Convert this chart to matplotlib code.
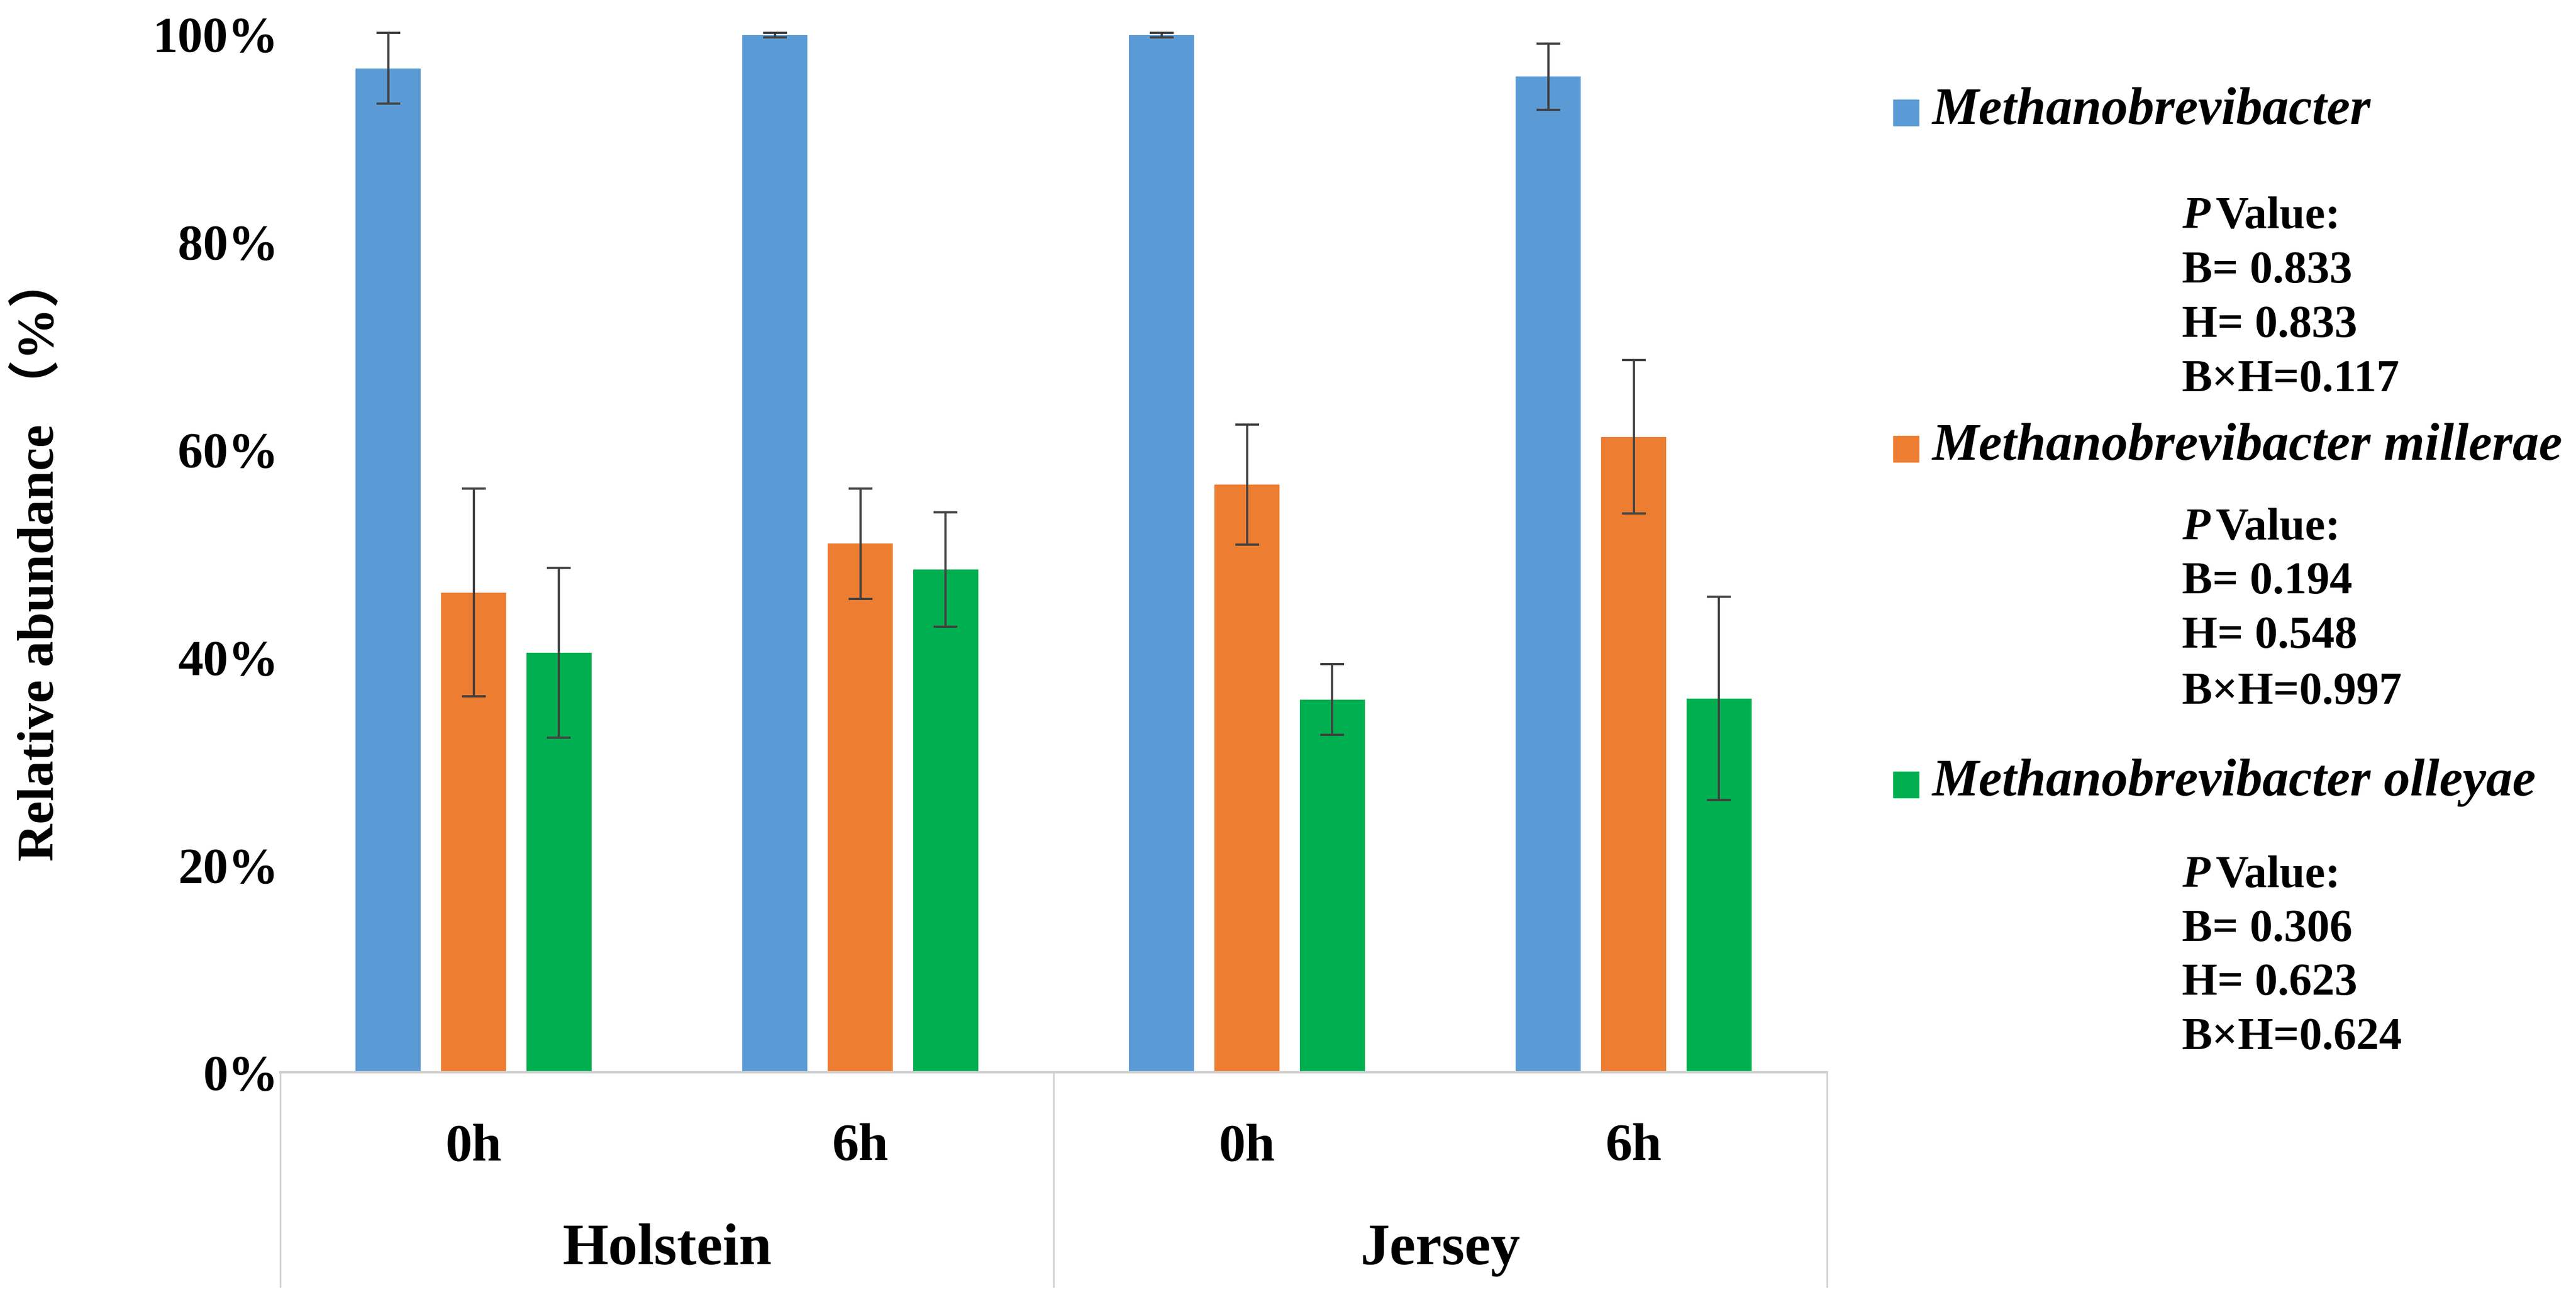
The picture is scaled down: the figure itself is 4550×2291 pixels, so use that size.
import numpy as np
import matplotlib
matplotlib.use("Agg")
import matplotlib.pyplot as plt
from matplotlib.patches import Rectangle

plt.rcParams['font.family'] = ['Liberation Serif', 'Noto Sans CJK SC']

# data (relative abundance, %)
times = ["0h", "6h", "0h", "6h"]
breeds = ["Holstein", "Jersey"]
species = ["Methanobrevibacter", "Methanobrevibacter millerae", "Methanobrevibacter olleyae"]
mbb = [96.7, 99.9, 99.9, 95.9]
mbb_err = [3.4, 0.2, 0.2, 3.2]
millerae = [46.2, 50.9, 56.6, 61.2]
millerae_err = [10.0, 5.3, 5.8, 7.4]
olleyae = [40.4, 48.4, 35.9, 36.0]
olleyae_err = [8.2, 5.5, 3.4, 9.8]
pvals = [["0.833", "0.833", "0.117"],
         ["0.194", "0.548", "0.997"],
         ["0.306", "0.623", "0.624"]]
colors = ["#5B9BD5", "#ED7D31", "#00B050"]

W, H = 4550, 2291
def fx(x): return x / W
def fy(y): return 1 - y / H

fig = plt.figure(figsize=(45.5, 22.91), dpi=100)
ax = fig.add_axes([fx(495), fy(1894), (3227 - 495) / W, (1894 - 60) / H])

x = np.arange(len(times))
offs = [-0.221, 0, 0.221]
vals = [mbb, millerae, olleyae]
errs = [mbb_err, millerae_err, olleyae_err]
for i in range(3):
    ax.bar(x + offs[i], vals[i], width=0.168, color=colors[i], zorder=2)
    ax.errorbar(x + offs[i], vals[i], yerr=errs[i], fmt="none", ecolor="#404040",
                elinewidth=2.8, capsize=15, capthick=2.8, zorder=3, clip_on=False)

ax.set_xlim(-0.5, 3.5)
ax.set_ylim(0, 100)
ax.set_yticks([0, 20, 40, 60, 80, 100])
ax.set_yticklabels(["0%", "20%", "40%", "60%", "80%", "100%"], fontsize=64, fontweight="bold")
ax.set_xticks([])
ax.tick_params(axis="y", length=0, pad=2)
for s in ["top", "right", "left"]:
    ax.spines[s].set_visible(False)
ax.spines["bottom"].set_color("#d0d0d0")
ax.spines["bottom"].set_linewidth(3)

# multi-level category axis
tr = ax.get_xaxis_transform()
low = -(2273 - 1894) / 1834
for xv in [-0.5, 1.5, 3.5]:
    ax.plot([xv, xv], [0, low], transform=tr, color="#d0d0d0", lw=2, clip_on=False)
for i, t in enumerate(times):
    ax.text(i, -(2027 - 1894) / 1834, t, transform=tr, ha="center", va="center",
            fontsize=68, fontweight="bold")
for j, b in enumerate(breeds):
    ax.text(2 * j + 0.5, -(2208 - 1894) / 1834, b, transform=tr, ha="center", va="center",
            fontsize=75, fontweight="bold")

fig.text(fx(70), fy(986), "Relative abundance （%）", rotation=90, ha="center", va="center",
         fontsize=66, fontweight="bold")

# legend with p values
sq_y = [199, 793, 1386]
name_base = [219, 812, 1405]
p_base = [[403, 499, 595, 691], [953, 1048, 1144, 1243], [1567, 1662, 1757, 1853]]
for k in range(3):
    fig.patches.append(Rectangle((fx(3344), fy(sq_y[k] + 23)), 45 / W, 46 / H,
                                 transform=fig.transFigure, color=colors[k]))
    fig.text(fx(3412), fy(name_base[k]), species[k], ha="left", va="baseline",
             fontsize=67, fontweight="bold", style="italic")
    fig.text(fx(3854), fy(p_base[k][0]), "P", ha="left", va="baseline",
             fontsize=58, fontweight="bold", style="italic")
    fig.text(fx(3913), fy(p_base[k][0]), "Value:", ha="left", va="baseline",
             fontsize=58, fontweight="bold")
    lines = ["B= " + pvals[k][0], "H= " + pvals[k][1], "B×H=" + pvals[k][2]]
    for m, ln in enumerate(lines):
        fig.text(fx(3854), fy(p_base[k][m + 1]), ln, ha="left", va="baseline",
                 fontsize=58, fontweight="bold")

fig.savefig("out.png", dpi=100, facecolor="white")
